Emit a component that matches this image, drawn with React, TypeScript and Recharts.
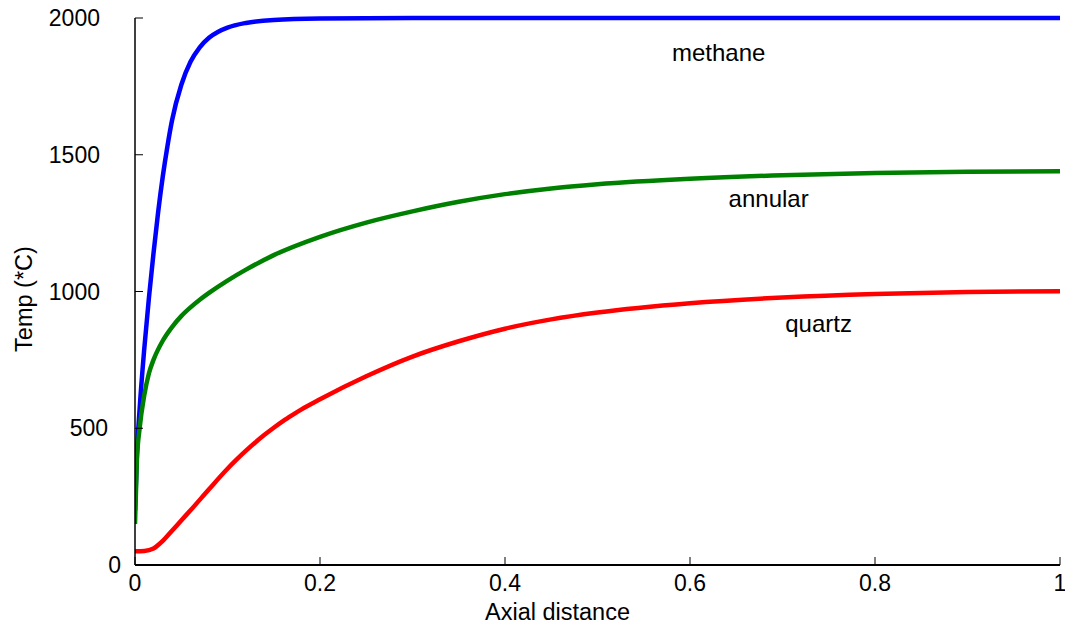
import React from 'react';
import { LineChart, Line, XAxis, YAxis, ReferenceDot, Label } from 'recharts';

// axial distance / temperature
const methaneDist = [0, 0.002, 0.005, 0.01, 0.015, 0.02, 0.025, 0.03, 0.035, 0.04, 0.05, 0.06, 0.07, 0.08, 0.09, 0.1, 0.12, 0.15, 0.2, 0.3, 0.5, 1.0];
const methaneTemp = [200, 400, 570, 790, 975, 1140, 1290, 1420, 1530, 1625, 1755, 1840, 1893, 1928, 1950, 1965, 1982, 1993, 1998, 2000, 2000, 2000];

const annularDist = [0, 0.002, 0.005, 0.01, 0.015, 0.02, 0.03, 0.04, 0.05, 0.06, 0.07, 0.08, 0.1, 0.12, 0.15, 0.2, 0.25, 0.3, 0.35, 0.4, 0.45, 0.5, 0.6, 0.7, 0.8, 0.9, 1.0];
const annularTemp = [150, 380, 500, 620, 700, 750, 820, 870, 910, 942, 970, 995, 1040, 1080, 1133, 1200, 1252, 1293, 1328, 1356, 1377, 1392, 1412, 1425, 1433, 1438, 1440];

const quartzDist = [0, 0.01, 0.02, 0.03, 0.04, 0.05, 0.06, 0.08, 0.1, 0.11, 0.12, 0.13, 0.14, 0.15, 0.16, 0.17, 0.18, 0.2, 0.25, 0.3, 0.35, 0.4, 0.45, 0.5, 0.6, 0.7, 0.8, 0.9, 1.0];
const quartzTemp = [50, 51, 60, 88, 125, 163, 200, 277, 352, 386, 418, 448, 476, 502, 526, 548, 569, 606, 690, 762, 818, 864, 898, 923, 957, 978, 991, 998, 1001];

const xTicks = [0, 0.2, 0.4, 0.6, 0.8, 1];
const yTicks = [0, 500, 1000, 1500, 2000];

const seriesNames = ['methane', 'annular', 'quartz'];
const seriesColors = ['#0000ff', '#008000', '#ff0000'];
const labelDist = [0.631, 0.685, 0.739];
const labelTemp = [1844, 1310, 853];

const FONT = '"Liberation Sans", Arial, sans-serif';

const zip = (xs: number[], ys: number[]) => xs.map((x, i) => ({ x, temp: ys[i] }));
const seriesData = [zip(methaneDist, methaneTemp), zip(annularDist, annularTemp), zip(quartzDist, quartzTemp)];

const YTick = (props: any) => {
    const { x, y, payload } = props;
    const shift = payload.value === 0 ? 21 : payload.value === 500 ? 8 : 0;
    return (
        <text x={x + shift} y={y} dy="0.355em" textAnchor="end" fontSize={23} fill="#000" fontFamily={FONT}>
            {payload.value}
        </text>
    );
};

const XTick = (props: any) => {
    const { x, y, payload } = props;
    return (
        <text x={x} y={y} dy="0.71em" textAnchor="middle" fontSize={23} fill="#000" fontFamily={FONT}>
            {payload.value}
        </text>
    );
};

const axisLine = { stroke: '#000', strokeWidth: 1.5 };
const tickLine = { stroke: '#000', strokeWidth: 1 };

export default function App() {
    return (
        <div style={{ position: 'absolute', left: 0, top: 0, background: '#fff' }}>
            <LineChart width={1065} height={631} margin={{ top: 18, right: 5, bottom: 0, left: 0 }}>
                <XAxis
                    dataKey="x"
                    type="number"
                    domain={[0, 1]}
                    ticks={xTicks}
                    height={66}
                    tickSize={-8}
                    tickMargin={18}
                    tick={<XTick />}
                    axisLine={{ stroke: '#000', strokeWidth: 2 }}
                    tickLine={tickLine}
                    allowDataOverflow
                >
                    <Label
                        content={() => (
                            <text x={557.5} y={620} textAnchor="middle" fontSize={23.5} fill="#000" fontFamily={FONT}>
                                Axial distance
                            </text>
                        )}
                    />
                </XAxis>
                <XAxis
                    xAxisId="top"
                    orientation="top"
                    type="number"
                    domain={[0, 1]}
                    ticks={xTicks}
                    height={0}
                    tickSize={-8}
                    tick={false}
                    axisLine={axisLine}
                    tickLine={tickLine}
                />
                <YAxis
                    type="number"
                    domain={[0, 2000]}
                    ticks={yTicks}
                    width={135}
                    tickSize={-8}
                    tickMargin={43}
                    tick={<YTick />}
                    axisLine={axisLine}
                    tickLine={tickLine}
                >
                    <Label
                        content={() => (
                            <text transform="translate(32, 299) rotate(-90)" textAnchor="middle" fontSize={23.5} fill="#000" fontFamily={FONT}>
                                Temp (*C)
                            </text>
                        )}
                    />
                </YAxis>
                <YAxis
                    yAxisId="right"
                    orientation="right"
                    type="number"
                    domain={[0, 2000]}
                    ticks={yTicks}
                    width={0}
                    tickSize={-8}
                    tick={false}
                    axisLine={axisLine}
                    tickLine={tickLine}
                />
                {seriesData.map((data, i) => (
                    <Line
                        key={seriesNames[i]}
                        data={data}
                        dataKey="temp"
                        name={seriesNames[i]}
                        type="monotone"
                        stroke={seriesColors[i]}
                        strokeWidth={4.5}
                        dot={false}
                        activeDot={false}
                        isAnimationActive={false}
                    />
                ))}
                {seriesNames.map((name, i) => (
                    <ReferenceDot
                        key={'lbl-' + name}
                        x={labelDist[i]}
                        y={labelTemp[i]}
                        r={0}
                        fill="none"
                        stroke="none"
                        label={{
                            content: (p: any) => (
                                <text x={p.viewBox.x} y={p.viewBox.y} textAnchor="middle" fontSize={24} fill="#000" fontFamily={FONT}>
                                    {name}
                                </text>
                            ),
                        }}
                    />
                ))}
            </LineChart>
        </div>
    );
}
